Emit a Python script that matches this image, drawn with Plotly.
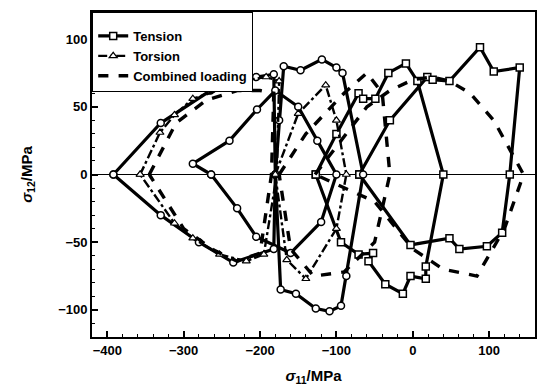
import plotly.graph_objects as go

# ---- data (sigma11, sigma12 in MPa), each loop closed ----
tension_sq_x = [
    [-127, -100, -71, -65, -49, -32, -9, 6, 40, 17, 17, -3, -13, -36, -58, -52, -71, -94, -127],
    [-70, -30, 19, 26, 48, 88, 106, 140, 127, 117, 97, 61, 48, -3, -70],
]
tension_sq_y = [
    [0, 30, 60, 56, 56, 75, 82, 69, 0, -68, -77, -75, -88, -81, -64, -58, -59, -50, 0],
    [0, 40, 72, 70, 69, 94, 76, 79, 0, -43, -53, -55, -47, -52, 0],
]
tension_ci_x = [
    [-392, -330, -265, -205, -182, -180, -182, -235, -280, -330, -392],
    [-264, -288, -240, -204, -180, -150, -125, -100, -120, -160, -205, -230, -264],
    [-180, -175, -169, -147, -119, -100, -92, -65, -87, -94, -109, -127, -153, -173, -180],
]
tension_ci_y = [
    [0, 38, 62, 72, 74, 0, -55, -65, -50, -30, 0],
    [0, 8, 25, 48, 62, 50, 25, 0, -35, -58, -46, -25, 0],
    [0, 40, 80, 77, 85, 79, 75, 0, -75, -97, -101, -99, -88, -85, 0],
]
torsion_x = [
    [-357, -331, -312, -288, -250, -225, -192, -175, -178, -195, -218, -253, -288, -312, -357],
    [-180, -150, -114, -100, -87, -100, -140, -165, -180],
]
torsion_y = [
    [0, 31, 44, 56, 63, 69, 72, 69, 0, -59, -64, -59, -47, -36, 0],
    [0, 45, 66, 40, 0, -40, -77, -63, 0],
]
combined_x = [
    [-345, -310, -270, -230, -200, -182, -185, -200, -230, -260, -300, -345],
    [-175, -140, -90, -60, -40, -30, -50, -90, -130, -160, -175],
    [-128, -60, -30, 0, 25, 48, 75, 106, 145, 120, 84, 40, 0, -50, -128],
]
combined_y = [
    [0, 38, 55, 62, 62, 60, 0, -58, -64, -56, -40, 0],
    [0, 30, 60, 75, 60, 0, -50, -72, -75, -55, 0],
    [0, 50, 62, 70, 72, 69, 60, 40, 0, -40, -75, -70, -55, -20, 0],
]


def join(loops):
    out = []
    for i, lp in enumerate(loops):
        if i:
            out.append(None)
        out.extend(lp)
    return out


FONT = "Liberation Sans, Arial"
mk = dict(color="white", size=7, line=dict(color="black", width=1.5))
fig = go.Figure()
fig.add_trace(go.Scatter(
    x=join(tension_sq_x), y=join(tension_sq_y), name="Tension", mode="lines+markers",
    line=dict(color="black", width=3.2), marker=dict(symbol="square", **mk),
    legendgroup="t"))
fig.add_trace(go.Scatter(
    x=join(tension_ci_x), y=join(tension_ci_y), name="Tension", mode="lines+markers",
    line=dict(color="black", width=3.2), marker=dict(symbol="circle", **mk),
    legendgroup="t", showlegend=False))
fig.add_trace(go.Scatter(
    x=join(torsion_x), y=join(torsion_y), name="Torsion", mode="lines+markers",
    line=dict(color="black", width=2.4, dash="dashdot"),
    marker=dict(symbol="triangle-up", color="white", size=7, line=dict(color="black", width=1.2))))
fig.add_trace(go.Scatter(
    x=join(combined_x), y=join(combined_y), name="Combined loading", mode="lines",
    line=dict(color="black", width=3.4, dash="dash")))

axis_common = dict(
    showline=True, linecolor="black", linewidth=1.8, mirror=True,
    ticks="inside", ticklen=6, tickwidth=1.6, tickcolor="black",
    showgrid=False, tickfont=dict(family=FONT, size=13, color="black", weight="bold"),
)
fig.update_xaxes(range=[-420, 160], dtick=100,
                 minor=dict(ticks="inside", ticklen=3, tickwidth=1.3, tickcolor="black", dtick=20),
                 title=dict(text="<i>σ</i><sub>11</sub>/MPa", standoff=14,
                            font=dict(family=FONT, size=15, color="black", weight="bold")),
                 zeroline=False, **axis_common)
fig.update_yaxes(range=[-120, 120], dtick=50,
                 minor=dict(ticks="inside", ticklen=3, tickwidth=1.3, tickcolor="black", dtick=10),
                 title=dict(text="<i>σ</i><sub>12</sub>/MPa", standoff=22,
                            font=dict(family=FONT, size=15, color="black", weight="bold")),
                 zeroline=True, zerolinecolor="black", zerolinewidth=1, **axis_common)
fig.update_layout(
    width=540, height=390, margin=dict(l=92, r=3, t=12, b=53),
    paper_bgcolor="white", plot_bgcolor="white",
    legend=dict(x=0, y=1, xanchor="left", yanchor="top", bgcolor="white",
                bordercolor="black", borderwidth=1.2, tracegroupgap=0,
                title=dict(text=" ", font=dict(size=6)),
                font=dict(family=FONT, size=13, color="black", weight="bold")),
)
fig.write_html("out.html")
